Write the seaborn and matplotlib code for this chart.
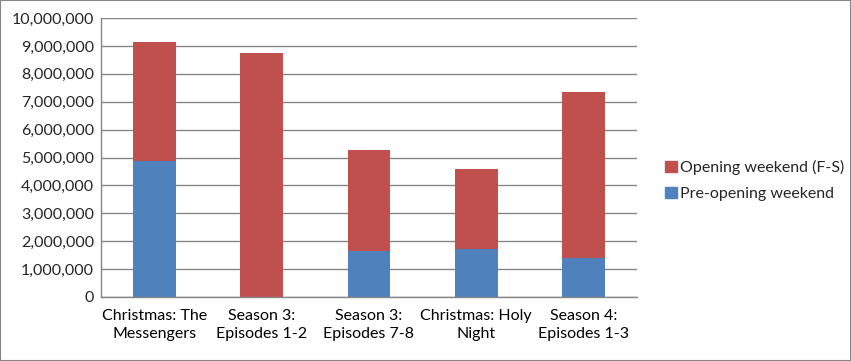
import pandas as pd
import seaborn as sns
import matplotlib.pyplot as plt
from matplotlib.patches import Patch, Rectangle
from matplotlib.ticker import FuncFormatter, FixedLocator

episodes = ["Christmas: The\nMessengers", "Season 3:\nEpisodes 1-2", "Season 3:\nEpisodes 7-8",
            "Christmas: Holy\nNight", "Season 4:\nEpisodes 1-3"]
pre_opening = [4870000, 0, 1660000, 1710000, 1410000]
opening = [4270000, 8760000, 3610000, 2880000, 5940000]

data = pd.DataFrame({"Episode": episodes, "Pre": pre_opening, "Opening": opening})
data["Total"] = data["Pre"] + data["Opening"]

red = "#C0504D"
blue = "#4F81BD"
grey = "#868686"

sns.set_style("white")
plt.rcParams["font.family"] = ["Lato", "DejaVu Sans"]

fig = plt.figure(figsize=(8.51, 3.61), dpi=100)
ax = fig.add_axes([0.1187, 0.1773, 0.6298, 0.7727])

sns.barplot(data=data, x="Episode", y="Total", color=red, width=0.4, saturation=1,
            linewidth=0, edgecolor="none", ax=ax)
sns.barplot(data=data, x="Episode", y="Pre", color=blue, width=0.4, saturation=1,
            linewidth=0, edgecolor="none", ax=ax)

ax.set_ylim(0, 10000000)
ax.set_xlim(-0.5, 4.5)
ax.set_yticks(range(0, 10000001, 1000000))
ax.yaxis.set_major_formatter(FuncFormatter(lambda v, p: f"{int(v):,}"))
ax.yaxis.grid(True, color=grey, linewidth=1)
ax.set_axisbelow(True)
ax.set_xlabel("")
ax.set_ylabel("")

ax.xaxis.set_minor_locator(FixedLocator([i - 0.5 for i in range(6)]))
ax.tick_params(axis="x", which="major", length=0, pad=9, labelsize=11.5, colors="black")
ax.tick_params(axis="x", which="minor", length=5, color=grey, direction="out")
ax.tick_params(axis="y", length=0, pad=5, labelsize=11.5)
for t in ax.get_xticklabels():
    t.set_linespacing(1.35)

for s in ["top", "right"]:
    ax.spines[s].set_visible(False)
for s in ["left", "bottom"]:
    ax.spines[s].set_color(grey)
    ax.spines[s].set_linewidth(1)

handles = [Patch(color=red, label="Opening weekend (F-S)"),
           Patch(color=blue, label="Pre-opening weekend")]
fig.legend(handles=handles, loc="center left", bbox_to_anchor=(0.765, 0.5), frameon=False,
           handlelength=0.7, handleheight=0.7, handletextpad=0.2, labelspacing=0.75, fontsize=11.5)

fig.patches.append(Rectangle((0, 0), 1, 1, transform=fig.transFigure, fill=False,
                             edgecolor=grey, linewidth=1.5))

fig.savefig("out.png", dpi=100)
